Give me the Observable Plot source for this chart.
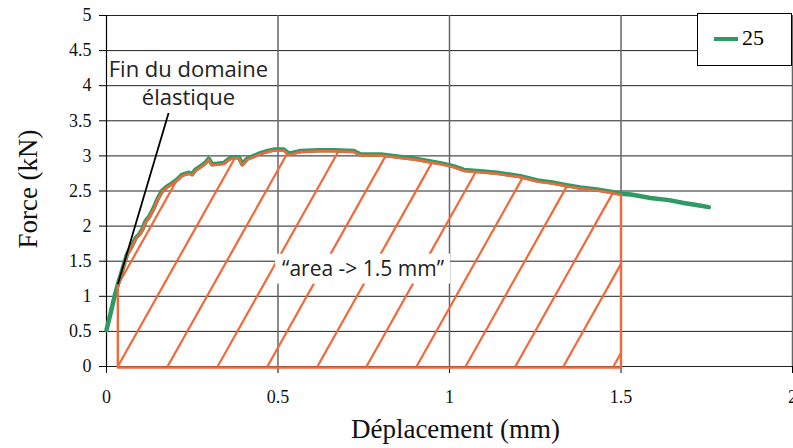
<!DOCTYPE html>
<html><head><meta charset="utf-8">
<script src="https://cdn.jsdelivr.net/npm/d3@7"></script>
<script src="https://cdn.jsdelivr.net/npm/@observablehq/plot@0.6"></script>
<style>
body{margin:0;background:#fff;}
#wrap{position:relative;width:793px;height:448px;}
#legend{position:absolute;left:697px;top:13px;width:95px;height:53px;border:1px solid #000;background:#fff;box-sizing:border-box;font-family:"Liberation Serif",serif;font-size:22px;}
#legend .sw{position:absolute;left:16px;top:23px;width:24px;height:3.5px;background:#2f9a63;}
#legend .lb{position:absolute;left:44px;top:12px;line-height:24px;}
</style></head><body><div id="wrap"></div>
<script>
// Series "25": displacement (mm) and force (kN)
const dispX = [0, 0.012, 0.022, 0.033, 0.045, 0.060, 0.072, 0.085, 0.095, 0.104,
  0.114, 0.125, 0.138, 0.150, 0.162, 0.175, 0.191, 0.205, 0.220, 0.240,
  0.250, 0.259, 0.274, 0.288, 0.298, 0.308, 0.325, 0.342, 0.355, 0.366,
  0.386, 0.396, 0.410, 0.430, 0.449, 0.470, 0.488, 0.517, 0.532, 0.566,
  0.620, 0.663, 0.721, 0.741, 0.800, 0.847, 0.900, 0.945, 0.980, 1.013,
  1.042, 1.090, 1.139, 1.207, 1.256, 1.300, 1.333, 1.380, 1.430, 1.470,
  1.500, 1.529, 1.586, 1.640, 1.683, 1.720, 1.756];
const forceY = [0.52, 0.76, 0.97, 1.17, 1.36, 1.60, 1.70, 1.83, 1.88, 1.95,
  2.07, 2.14, 2.26, 2.40, 2.50, 2.56, 2.61, 2.66, 2.73, 2.76,
  2.74, 2.80, 2.85, 2.90, 2.96, 2.88, 2.89, 2.90, 2.95, 2.98,
  2.98, 2.88, 2.96, 3.00, 3.04, 3.07, 3.09, 3.09, 3.03, 3.07,
  3.08, 3.08, 3.07, 3.02, 3.02, 2.99, 2.96, 2.92, 2.89, 2.85,
  2.80, 2.78, 2.76, 2.71, 2.65, 2.62, 2.59, 2.55, 2.52, 2.49,
  2.46, 2.45, 2.40, 2.37, 2.33, 2.30, 2.27];
const seriesName = "25";

// Hatched area: from end of elastic domain to 1.5 mm
const areaStart = 0.033;
const areaEnd = 1.5;
const hatchX0 = [-0.10, 0.033, 0.178, 0.324, 0.469, 0.615, 0.758, 0.904, 1.047, 1.192, 1.332, 1.478];
const hatchSlope = 8.7; // kN per mm

// Annotation leader: elastic end -> label
const leaderX = [0.033, 0.181];
const leaderY = [1.17, 3.61];
const noteLines = ["Fin du domaine", "élastique"];
const noteX = [0.239, 0.239];
const noteY = [4.23, 3.82];
const areaLabel = {text: "\u201carea -> 1.5 mm\u201d", x: 0.748, y: 1.387};

const xTicks = [0, 0.5, 1, 1.5, 2];
const yTicks = [0, 0.5, 1, 1.5, 2, 2.5, 3, 3.5, 4, 4.5, 5];

const curve = dispX.map((x, i) => ({x, y: forceY[i]}));
function curveAt(x) {
  for (let i = 1; i < curve.length; i++) {
    if (x <= curve[i].x) {
      const a = curve[i-1], b = curve[i];
      return a.y + (b.y - a.y) * (x - a.x) / (b.x - a.x);
    }
  }
  return curve[curve.length-1].y;
}
const topEdge = curve.filter(d => d.x >= areaStart && d.x <= areaEnd);
const outline = [{x: areaStart, y: 0}, ...topEdge, {x: areaEnd, y: 0}, {x: areaStart, y: 0}];
const hatch = hatchX0.map(x0 => {
  const xs = Math.max(x0, areaStart), ys = hatchSlope * (xs - x0);
  let xe = areaEnd, ye = hatchSlope * (areaEnd - x0);
  for (let x = xs; x <= areaEnd; x += 0.0005) {
    if (hatchSlope * (x - x0) >= curveAt(x)) { xe = x; ye = hatchSlope * (x - x0); break; }
  }
  return {x1: xs, y1: ys, x2: xe, y2: ye};
});
const leader = [{x1: leaderX[0], y1: leaderY[0], x2: leaderX[1], y2: leaderY[1]}];
const notes = noteLines.map((t, i) => ({t, x: noteX[i], y: noteY[i]}));

const green = "#2f9a63", orange = "#f2683a";
const serif = "Liberation Serif";

const chart = Plot.plot({
  width: 793, height: 448,
  marginLeft: 106, marginRight: 1, marginTop: 15, marginBottom: 82,
  x: {domain: [0, 2]},
  y: {domain: [0, 5]},
  style: {fontFamily: serif, background: "white"},
  marks: [
    Plot.gridY(yTicks, {stroke: "#222", strokeOpacity: 1, strokeWidth: 1}),
    Plot.gridX(xTicks.slice(1), {stroke: "#666", strokeOpacity: 1, strokeWidth: 1.5}),
    Plot.ruleX([0], {stroke: "#000", strokeWidth: 1.2}),
    Plot.axisY(yTicks, {tickSize: 7, tickPadding: 8, fontSize: 18, fontFamily: serif, label: null, stroke: "#000", fill: "#111", tickFormat: d => String(d)}),
    Plot.axisX(xTicks, {tickSize: 7, tickPadding: 17, fontSize: 18, fontFamily: serif, label: null, stroke: "#000", fill: "#111", tickFormat: d => String(d)}),
    Plot.link(hatch, {x1: "x1", y1: "y1", x2: "x2", y2: "y2", stroke: orange, strokeWidth: 2.2}),
    Plot.line(curve, {x: "x", y: "y", stroke: green, strokeWidth: 4.5}),
    Plot.line(outline, {x: "x", y: "y", stroke: orange, strokeWidth: 2.4, dy: 1}),
    Plot.link(leader, {x1: "x1", y1: "y1", x2: "x2", y2: "y2", stroke: "#000", strokeWidth: 1.8}),
    Plot.rect([areaLabel], {x1: d => d.x - 0.255, x2: d => d.x + 0.255, y1: d => d.y - 0.213, y2: d => d.y + 0.213, fill: "white"}),
    Plot.text([areaLabel], {x: "x", y: "y", text: "text", fontSize: 21, fontFamily: "Open Sans", fill: "#222"}),
    Plot.text(notes, {x: "x", y: "y", text: "t", fontSize: 22, fontFamily: "Open Sans", fill: "#222"}),
    Plot.text(["Déplacement (mm)"], {frameAnchor: "bottom", dx: 6, dy: 71, fontSize: 27, fontFamily: serif, fill: "#111"}),
    Plot.text(["Force (kN)"], {frameAnchor: "left", textAnchor: "middle", lineAnchor: "middle", dx: -78, dy: -2, rotate: -90, fontSize: 27, fontFamily: serif, fill: "#111"})
  ]
});
const wrap = document.getElementById("wrap");
wrap.appendChild(chart);
const lg = document.createElement("div");
lg.id = "legend";
lg.innerHTML = '<div class="sw"></div><div class="lb"></div>';
lg.querySelector(".lb").textContent = seriesName;
wrap.appendChild(lg);
</script>
</body></html>
